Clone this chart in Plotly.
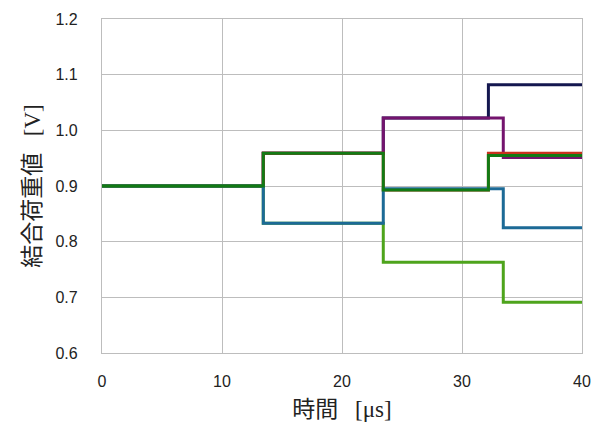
import plotly.graph_objects as go

# time breakpoints [μs]
times = [0, 13.44, 23.44, 32.2, 33.44, 40]

# series values (step: value holds from each time until the next)
navy = [0.9, 0.959, 1.022, 1.082, 1.082, 1.082]
purple = [0.9, 0.959, 1.022, 1.022, 0.951, 0.951]
red = [0.9, 0.959, 0.893, 0.959, 0.959, 0.959]
lightgreen = [0.9, 0.833, 0.763, 0.763, 0.691, 0.691]
blue = [0.9, 0.833, 0.895, 0.895, 0.825, 0.825]
darkgreen = [0.9, 0.959, 0.893, 0.955, 0.955, 0.955]

series = [
    ("s1", navy, "#14174f"),
    ("s2", purple, "#74146e"),
    ("s3", red, "#c8321e"),
    ("s4", lightgreen, "#4ea41c"),
    ("s5", blue, "#1c6a96"),
    ("s6", darkgreen, "#127a14"),
]

x_ticks = [0, 10, 20, 30, 40]
y_ticks = [0.6, 0.7, 0.8, 0.9, 1.0, 1.1, 1.2]
y_tick_text = ["0.6", "0.7", "0.8", "0.9", "1.0", "1.1", "1.2"]

fig = go.Figure()
for name, vals, col in series:
    fig.add_trace(go.Scatter(
        x=times, y=vals, mode="lines", name=name,
        line=dict(color=col, width=3, shape="hv"),
        showlegend=False,
    ))

grid = "#bdbdbd"
serif = "<span style='font-family:Liberation Serif'>"
fig.update_layout(
    width=603, height=424,
    margin=dict(l=102, r=21, t=19, b=71),
    paper_bgcolor="white", plot_bgcolor="white",
    font=dict(family="Liberation Sans, Arial, sans-serif", size=16, color="#222"),
)
fig.update_xaxes(
    range=[0, 40], tickvals=x_ticks, ticktext=[str(v) for v in x_ticks],
    showgrid=True, gridcolor=grid, gridwidth=1.3,
    showline=True, linecolor=grid, linewidth=1.3, mirror=True,
    zeroline=False, ticks="", ticklabelstandoff=14, automargin=False,
    title=dict(text="時間\u2002 " + serif + "[μs]</span>",
               font=dict(family="Noto Sans CJK JP", size=23, color="#222"), standoff=6),
)
fig.update_yaxes(
    range=[0.6, 1.2], tickvals=y_ticks, ticktext=y_tick_text,
    showgrid=True, gridcolor=grid, gridwidth=1.3,
    showline=True, linecolor=grid, linewidth=1.3, mirror=True,
    zeroline=False, ticks="", ticklabelstandoff=20, automargin=False,
    title=dict(text="結合荷重値\u2002 " + serif + "[V]</span>",
               font=dict(family="Noto Sans CJK JP", size=23, color="#222"), standoff=8),
)

fig.write_html("out.html", config={"displayModeBar": False},
               post_script="document.body.style.margin='0';")
